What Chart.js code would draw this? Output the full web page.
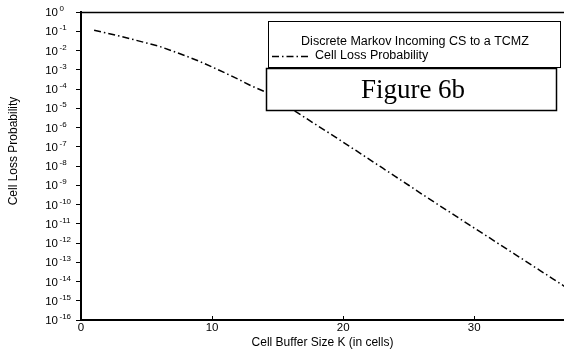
<!DOCTYPE html>
<html>
<head>
<meta charset="utf-8">
<script src="https://cdn.jsdelivr.net/npm/chart.js@4/dist/chart.umd.min.js"></script>
<style>
  html, body { margin: 0; padding: 0; background: #fff; }
  #wrap { width: 564px; height: 364px; }
</style>
</head>
<body>
<div id="wrap"><canvas id="c" width="564" height="364"></canvas></div>
<script>
// Buffer size K (cells) and the corresponding cell loss probability
const bufferSize = [1, 2, 3, 4, 5, 6, 7, 8, 9, 10, 11, 12, 13, 14, 15, 16, 17, 18, 19,
  20, 21, 22, 23, 24, 25, 26, 27, 28, 29, 30, 31, 32, 33, 34, 35, 36, 37];
const cellLossProb = [1.12e-1, 7.9e-2, 5.5e-2, 3.7e-2, 2.45e-2, 1.62e-2, 9.3e-3, 5.2e-3,
  2.8e-3, 1.4e-3, 6.8e-4, 3.2e-4, 1.45e-4, 7.4e-5, 2.75e-5, 1.0e-5, 3.6e-6, 1.3e-6,
  4.8e-7, 1.74e-7, 6.2e-8, 2.2e-8, 7.9e-9, 2.8e-9, 1.0e-9, 3.5e-10, 1.26e-10, 4.6e-11,
  1.66e-11, 6.0e-12, 2.2e-12, 7.9e-13, 2.9e-13, 1.05e-13, 3.8e-14, 1.38e-14, 5.0e-15];

// Axis ticks
const xTickValues = [0, 10, 20, 30];
const yTickExponents = [0, -1, -2, -3, -4, -5, -6, -7, -8, -9, -10, -11, -12, -13, -14, -15, -16];

// Text
const xTitle = 'Cell Buffer Size K (in cells)';
const yTitle = 'Cell Loss Probability';
const legendTitle = 'Discrete Markov Incoming CS to a TCMZ';
const seriesName = 'Cell Loss Probability';
const figureLabel = 'Figure 6b';

const SANS = '"Liberation Sans", Arial, sans-serif';
const SERIF = '"Liberation Serif", "Times New Roman", serif';
const LINE_DASH = [7, 3, 1.5, 3];

// Y tick labels as 10 with a raised exponent, inward x ticks, frame top,
// the rotated y title and the boxed legend / figure caption.
const decorations = {
  id: 'decorations',
  afterDraw(chart) {
    const ctx = chart.ctx;
    const ys = chart.scales.y;
    const xs = chart.scales.x;
    const area = chart.chartArea;
    ctx.save();
    ctx.fillStyle = '#000';
    ctx.strokeStyle = '#000';

    // y tick labels
    yTickExponents.forEach(e => {
      const py = ys.getPixelForValue(Math.pow(10, e));
      ctx.font = '11.5px ' + SANS;
      ctx.textAlign = 'right';
      ctx.textBaseline = 'middle';
      ctx.fillText('10', 58, py + 1);
      ctx.font = '8px ' + SANS;
      ctx.textAlign = 'left';
      ctx.fillText(e === 0 ? '0' : '-' + Math.abs(e), 59.5, py - 3);
    });

    // short inward ticks on the x axis
    ctx.lineWidth = 1;
    xTickValues.forEach(v => {
      const px = Math.round(xs.getPixelForValue(v)) + 0.5;
      ctx.beginPath();
      ctx.moveTo(px, area.bottom);
      ctx.lineTo(px, area.bottom - 4);
      ctx.stroke();
    });

    // top frame line
    ctx.lineWidth = 1.5;
    ctx.beginPath();
    ctx.moveTo(area.left, area.top + 0.5);
    ctx.lineTo(area.right, area.top + 0.5);
    ctx.stroke();

    // y axis title
    ctx.save();
    ctx.translate(14, 151);
    ctx.rotate(-Math.PI / 2);
    ctx.font = '12px ' + SANS;
    ctx.textAlign = 'center';
    ctx.textBaseline = 'middle';
    ctx.fillText(yTitle, 0, 0);
    ctx.restore();

    // legend box
    ctx.fillStyle = '#fff';
    ctx.fillRect(268, 21, 293, 47);
    ctx.lineWidth = 1;
    ctx.strokeRect(268.5, 21.5, 292, 46);
    ctx.fillStyle = '#000';
    ctx.font = '12.5px ' + SANS;
    ctx.textAlign = 'center';
    ctx.textBaseline = 'middle';
    ctx.fillText(legendTitle, 415, 42);
    ctx.textAlign = 'left';
    ctx.fillText(seriesName, 315, 56);
    ctx.lineWidth = 1.5;
    ctx.setLineDash(LINE_DASH);
    ctx.beginPath();
    ctx.moveTo(272, 56.5);
    ctx.lineTo(310, 56.5);
    ctx.stroke();
    ctx.setLineDash([]);

    // figure caption box
    ctx.fillStyle = '#fff';
    ctx.fillRect(266, 68, 291, 43);
    ctx.lineWidth = 1.5;
    ctx.strokeRect(266.5, 68.5, 290, 42);
    ctx.fillStyle = '#000';
    ctx.font = '27px ' + SERIF;
    ctx.textAlign = 'center';
    ctx.textBaseline = 'alphabetic';
    ctx.fillText(figureLabel, 413, 98);

    ctx.restore();
  }
};

new Chart(document.getElementById('c'), {
  type: 'line',
  data: {
    datasets: [{
      label: seriesName,
      data: bufferSize.map((k, i) => ({ x: k, y: cellLossProb[i] })),
      borderColor: '#000',
      borderWidth: 1.5,
      borderDash: LINE_DASH,
      pointRadius: 0,
      tension: 0,
      fill: false
    }]
  },
  options: {
    responsive: false,
    animation: false,
    devicePixelRatio: 1,
    layout: { padding: { top: 12, right: 0, left: 0, bottom: 0 } },
    plugins: {
      legend: { display: false },
      tooltip: { enabled: false }
    },
    scales: {
      x: {
        type: 'linear',
        min: 0,
        max: 36.85,
        afterBuildTicks(scale) { scale.ticks = xTickValues.map(v => ({ value: v })); },
        afterFit(scale) { scale.height = 44; },
        grid: { display: true, drawOnChartArea: false, drawTicks: false },
        border: { display: true, color: '#000', width: 2 },
        ticks: {
          color: '#000',
          padding: 1,
          maxRotation: 0,
          font: { family: SANS, size: 11.5 }
        },
        title: {
          display: true,
          text: xTitle,
          color: '#000',
          font: { family: SANS, size: 12 },
          padding: { top: 0, bottom: 14 }
        }
      },
      y: {
        type: 'logarithmic',
        min: 1e-16,
        max: 1,
        afterBuildTicks(scale) {
          scale.ticks = yTickExponents.map(e => ({ value: Math.pow(10, e), major: true }));
        },
        afterFit(scale) { scale.width = 81; },
        grid: { display: true, drawOnChartArea: false, drawTicks: true, tickLength: 5, color: '#000', tickColor: '#000', tickWidth: 1 },
        border: { display: true, color: '#000', width: 2 },
        ticks: { display: false }
      }
    }
  },
  plugins: [decorations]
});
</script>
</body>
</html>
